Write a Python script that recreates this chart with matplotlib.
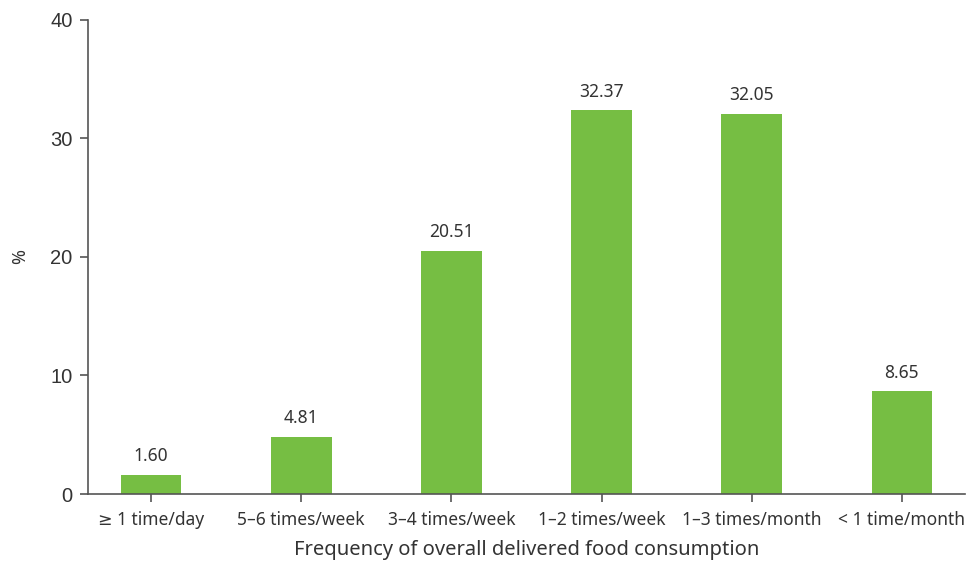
import numpy as np
import matplotlib.pyplot as plt

categories = ['\u2265 1 time/day', '5\u20136 times/week', '3\u20134 times/week',
              '1\u20132 times/week', '1\u20133 times/month', '< 1 time/month']
percent = [1.60, 4.81, 20.51, 32.37, 32.05, 8.65]
value_labels = ['1.60', '4.81', '20.51', '32.37', '32.05', '8.65']

green = '#76be43'
text_col = '#333333'
axis_col = '#555555'
fam = ['Noto Sans', 'DejaVu Sans']

fig = plt.figure(figsize=(9.79, 5.66), dpi=100)
ax = fig.add_axes([0.0899, 0.1272, 0.8958, 0.8375])

x = np.arange(len(categories))
ax.bar(x, percent, width=0.405, color=green, zorder=2)

# value above each bar
for xi, v, lab in zip(x, percent, value_labels):
    ax.annotate(lab, (xi, v), xytext=(0, 10), textcoords='offset points',
                ha='center', va='baseline', fontsize=12.5, color=text_col,
                family=fam)

ax.set_xlim(-0.42, 5.42)
ax.set_ylim(0, 40)
ax.set_yticks([0, 10, 20, 30, 40])
ax.set_xticks(x)
ax.set_xticklabels(categories, fontsize=12.5, color=text_col, family=fam)
for t in ax.get_yticklabels():
    t.set_family(['Liberation Sans', 'DejaVu Sans'])
    t.set_fontsize(14.5)
    t.set_color(text_col)

ax.spines['top'].set_visible(False)
ax.spines['right'].set_visible(False)
for s in ['left', 'bottom']:
    ax.spines[s].set_color(axis_col)
    ax.spines[s].set_linewidth(1.2)
ax.tick_params(axis='both', color=axis_col, width=1.2, length=6)
ax.tick_params(axis='x', pad=6)
ax.tick_params(axis='y', pad=5)

ax.set_xlabel('Frequency of overall delivered food consumption', fontsize=14.5,
              color=text_col, family=fam, labelpad=8)
ax.set_ylabel('%', fontsize=13, color=text_col, family=fam, labelpad=15)

plt.savefig('out.png', dpi=100)
